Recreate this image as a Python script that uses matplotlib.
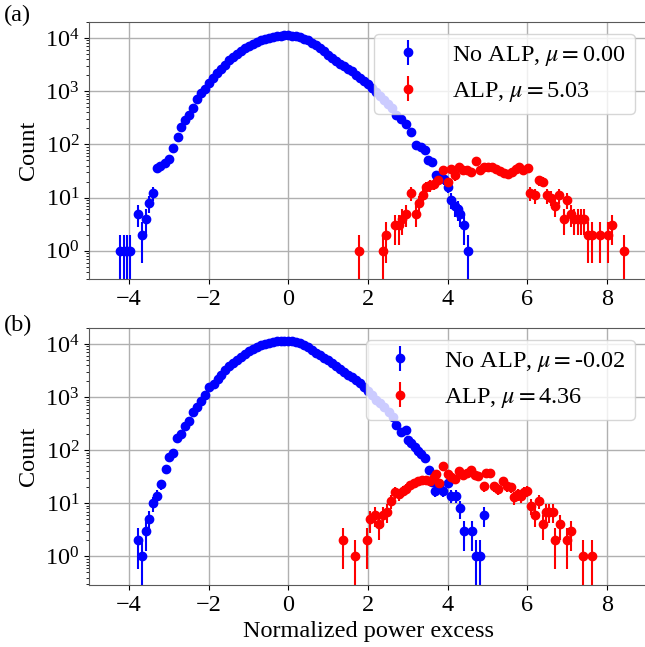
import numpy as np
import matplotlib.pyplot as plt

plt.rcParams['font.family'] = ['Liberation Serif', 'DejaVu Serif']
plt.rcParams['mathtext.fontset'] = 'stix'
plt.rcParams['font.size'] = 17.5

# panel (a): no ALP
xa_noalp = [-4.22, -4.14, -4.06, -3.98, -3.78, -3.68, -3.58, -3.49, -3.39, -3.31,
            -3.22, -3.10, -2.99, -2.89, -2.78, -2.70, -2.60, -2.50, -2.39, -2.29,
            -2.19, -2.10, -2.00, -1.90, -1.80, -1.70, -1.60, -1.50, -1.40, -1.30,
            -1.20, -1.10, -1.00, -0.90, -0.80, -0.70, -0.60, -0.50, -0.40, -0.30,
            -0.20, -0.10, 0.00, 0.10, 0.20, 0.30, 0.40, 0.50, 0.60, 0.70,
            0.80, 0.90, 1.00, 1.10, 1.20, 1.30, 1.40, 1.50, 1.60, 1.70,
            1.80, 1.90, 2.00, 2.10, 2.20, 2.30, 2.40, 2.50, 2.60, 2.71,
            2.83, 2.96, 3.08, 3.21, 3.33, 3.42, 3.50, 3.61, 3.71, 3.81,
            3.90, 4.00, 4.09, 4.17, 4.25, 4.31, 4.40, 4.50]
ca_noalp = [1, 1, 1, 1, 5, 2, 4, 8, 12, 36,
            39, 45, 52, 84, 138, 208, 283, 352, 490, 720,
            920, 1080, 1400, 1800, 2200, 2650, 3150, 3800, 4400, 5000,
            5700, 6400, 7100, 7800, 8500, 9100, 9700, 10200, 10600, 10900,
            11100, 11200, 11200, 11000, 10700, 10300, 9700, 9000, 8200, 7300,
            6500, 5600, 4800, 4200, 3700, 3300, 2950, 2650, 2350, 2050,
            1800, 1550, 1350, 1150, 960, 800, 680, 580, 480, 352,
            305, 246, 170, 96, 90, 78, 50, 47, 26, 23,
            22, 16, 9, 7, 6, 5, 3, 1]

# panel (a): ALP
xa_alp = [1.76, 2.37, 2.46, 2.67, 2.77, 2.86, 2.96, 3.08, 3.19, 3.28,
          3.38, 3.46, 3.56, 3.65, 3.76, 3.88, 4.00, 4.09, 4.17, 4.28,
          4.38, 4.48, 4.59, 4.70, 4.80, 4.90, 5.00, 5.10, 5.20, 5.30,
          5.40, 5.50, 5.60, 5.71, 5.78, 5.88, 6.01, 6.07, 6.19, 6.30,
          6.40, 6.48, 6.58, 6.70, 6.80, 6.91, 7.00, 7.09, 7.18, 7.26,
          7.34, 7.43, 7.51, 7.61, 7.81, 8.02, 8.12, 8.43]
ca_alp = [1, 1, 2, 3, 3, 4, 5, 12, 5, 8,
          11, 16, 17, 18, 21, 33, 20, 35, 26, 38,
          33, 33, 30, 49, 33, 38, 38, 38, 34, 32,
          29, 28, 30, 34, 38, 33, 36, 12, 11, 21,
          20, 11, 10, 7, 11, 4, 9, 5, 4, 4,
          4, 4, 2, 2, 2, 2, 3, 1]

# panel (b): no ALP
xb_noalp = [-3.78, -3.68, -3.58, -3.49, -3.39, -3.29, -3.20, -3.08, -3.00, -2.89,
            -2.80, -2.70, -2.60, -2.50, -2.39, -2.29, -2.19, -2.10, -1.99, -1.88,
            -1.78, -1.70, -1.60, -1.50, -1.40, -1.30, -1.20, -1.10, -1.00, -0.90,
            -0.80, -0.70, -0.60, -0.50, -0.40, -0.30, -0.20, -0.10, 0.00, 0.10,
            0.20, 0.30, 0.40, 0.50, 0.60, 0.70, 0.80, 0.90, 1.00, 1.10,
            1.20, 1.30, 1.40, 1.50, 1.60, 1.70, 1.80, 1.90, 2.00, 2.10,
            2.20, 2.30, 2.40, 2.52, 2.62, 2.71, 2.83, 2.94, 3.00, 3.08,
            3.17, 3.25, 3.33, 3.42, 3.54, 3.60, 3.69, 3.79, 3.89, 4.00,
            4.09, 4.20, 4.30, 4.40, 4.60, 4.71, 4.81, 4.90]
cb_noalp = [2, 1, 3, 5, 10, 14, 23, 44, 76, 87,
            168, 204, 290, 360, 530, 645, 850, 1090, 1520, 1800,
            2150, 2650, 3200, 3800, 4400, 5100, 5800, 6500, 7300, 8100,
            8800, 9500, 10100, 10600, 11000, 11300, 11500, 11600, 11600, 11400,
            11000, 10400, 9700, 8800, 7800, 6900, 6100, 5400, 4900, 4300,
            3800, 3350, 2950, 2650, 2350, 2100, 1850, 1550, 1300, 1080,
            900, 760, 640, 520, 417, 295, 224, 240, 156, 135,
            114, 98, 85, 71, 43, 25, 17, 20, 17, 24,
            14, 14, 8, 3, 3, 1, 1, 6]

# panel (b): ALP
xb_alp = [1.36, 1.66, 1.97, 2.04, 2.16, 2.26, 2.37, 2.47, 2.58, 2.67,
          2.77, 2.87, 2.96, 3.06, 3.16, 3.26, 3.36, 3.46, 3.56, 3.65,
          3.71, 3.79, 3.89, 4.00, 4.09, 4.17, 4.27, 4.37, 4.47, 4.57,
          4.67, 4.77, 4.91, 4.96, 5.06, 5.17, 5.27, 5.38, 5.48, 5.59,
          5.67, 5.75, 5.84, 5.92, 6.00, 6.09, 6.19, 6.29, 6.40, 6.47,
          6.55, 6.64, 6.70, 6.82, 7.00, 7.09, 7.40, 7.61]
cb_alp = [2, 1, 2, 5, 6, 4, 6, 7, 11, 16,
          15, 17, 19, 22, 24, 26, 28, 27, 26, 32,
          36, 24, 51, 36, 32, 29, 40, 34, 37, 42,
          34, 33, 21, 37, 37, 21, 19, 26, 21, 20,
          13, 15, 14, 16, 17, 9, 6, 11, 4, 7,
          7, 7, 2, 4, 2, 3, 1, 1]

mu_a = ['0.00', '5.03']
mu_b = ['-0.02', '4.36']

fig = plt.figure(figsize=(6.45, 6.47), dpi=100)
W, H = 645.0, 647.0
left, right = 89.3, 647.0
ax1 = fig.add_axes([left / W, 1 - 279.3 / H, (right - left) / W, (279.3 - 22) / H])
ax2 = fig.add_axes([left / W, 1 - 585.0 / H, (right - left) / W, (585.0 - 328) / H])

panels = [(ax1, xa_noalp, ca_noalp, xa_alp, ca_alp, mu_a),
          (ax2, xb_noalp, cb_noalp, xb_alp, cb_alp, mu_b)]

for ax, xn, cn, xs, cs, mu in panels:
    cn = np.array(cn, dtype=float)
    cs = np.array(cs, dtype=float)
    ax.errorbar(xn, cn, yerr=np.sqrt(cn), fmt='o', color='blue', ms=6,
                label=r'No ALP, $\mu=$' + mu[0])
    ax.errorbar(xs, cs, yerr=np.sqrt(cs), fmt='o', color='red', ms=6,
                label=r'ALP, $\mu=$' + mu[1])
    ax.set_yscale('log')
    ax.set_xlim(-5, 9)
    ax.set_ylim(0.29, 2e4)
    ax.set_xticks([-4, -2, 0, 2, 4, 6, 8])
    ax.set_ylabel('Count')
    ax.grid(True, color='#b0b0b0', linewidth=1.0)
    for sp in ax.spines.values():
        sp.set_color('0.35')
    ax.legend(loc='upper right')

ax2.set_xlabel('Normalized power excess')

fig.text(0.006, 1 - 15 / H, '(a)', va='center', ha='left')
fig.text(0.006, 1 - 325 / H, '(b)', va='center', ha='left')

fig.savefig('out.png', dpi=100)
